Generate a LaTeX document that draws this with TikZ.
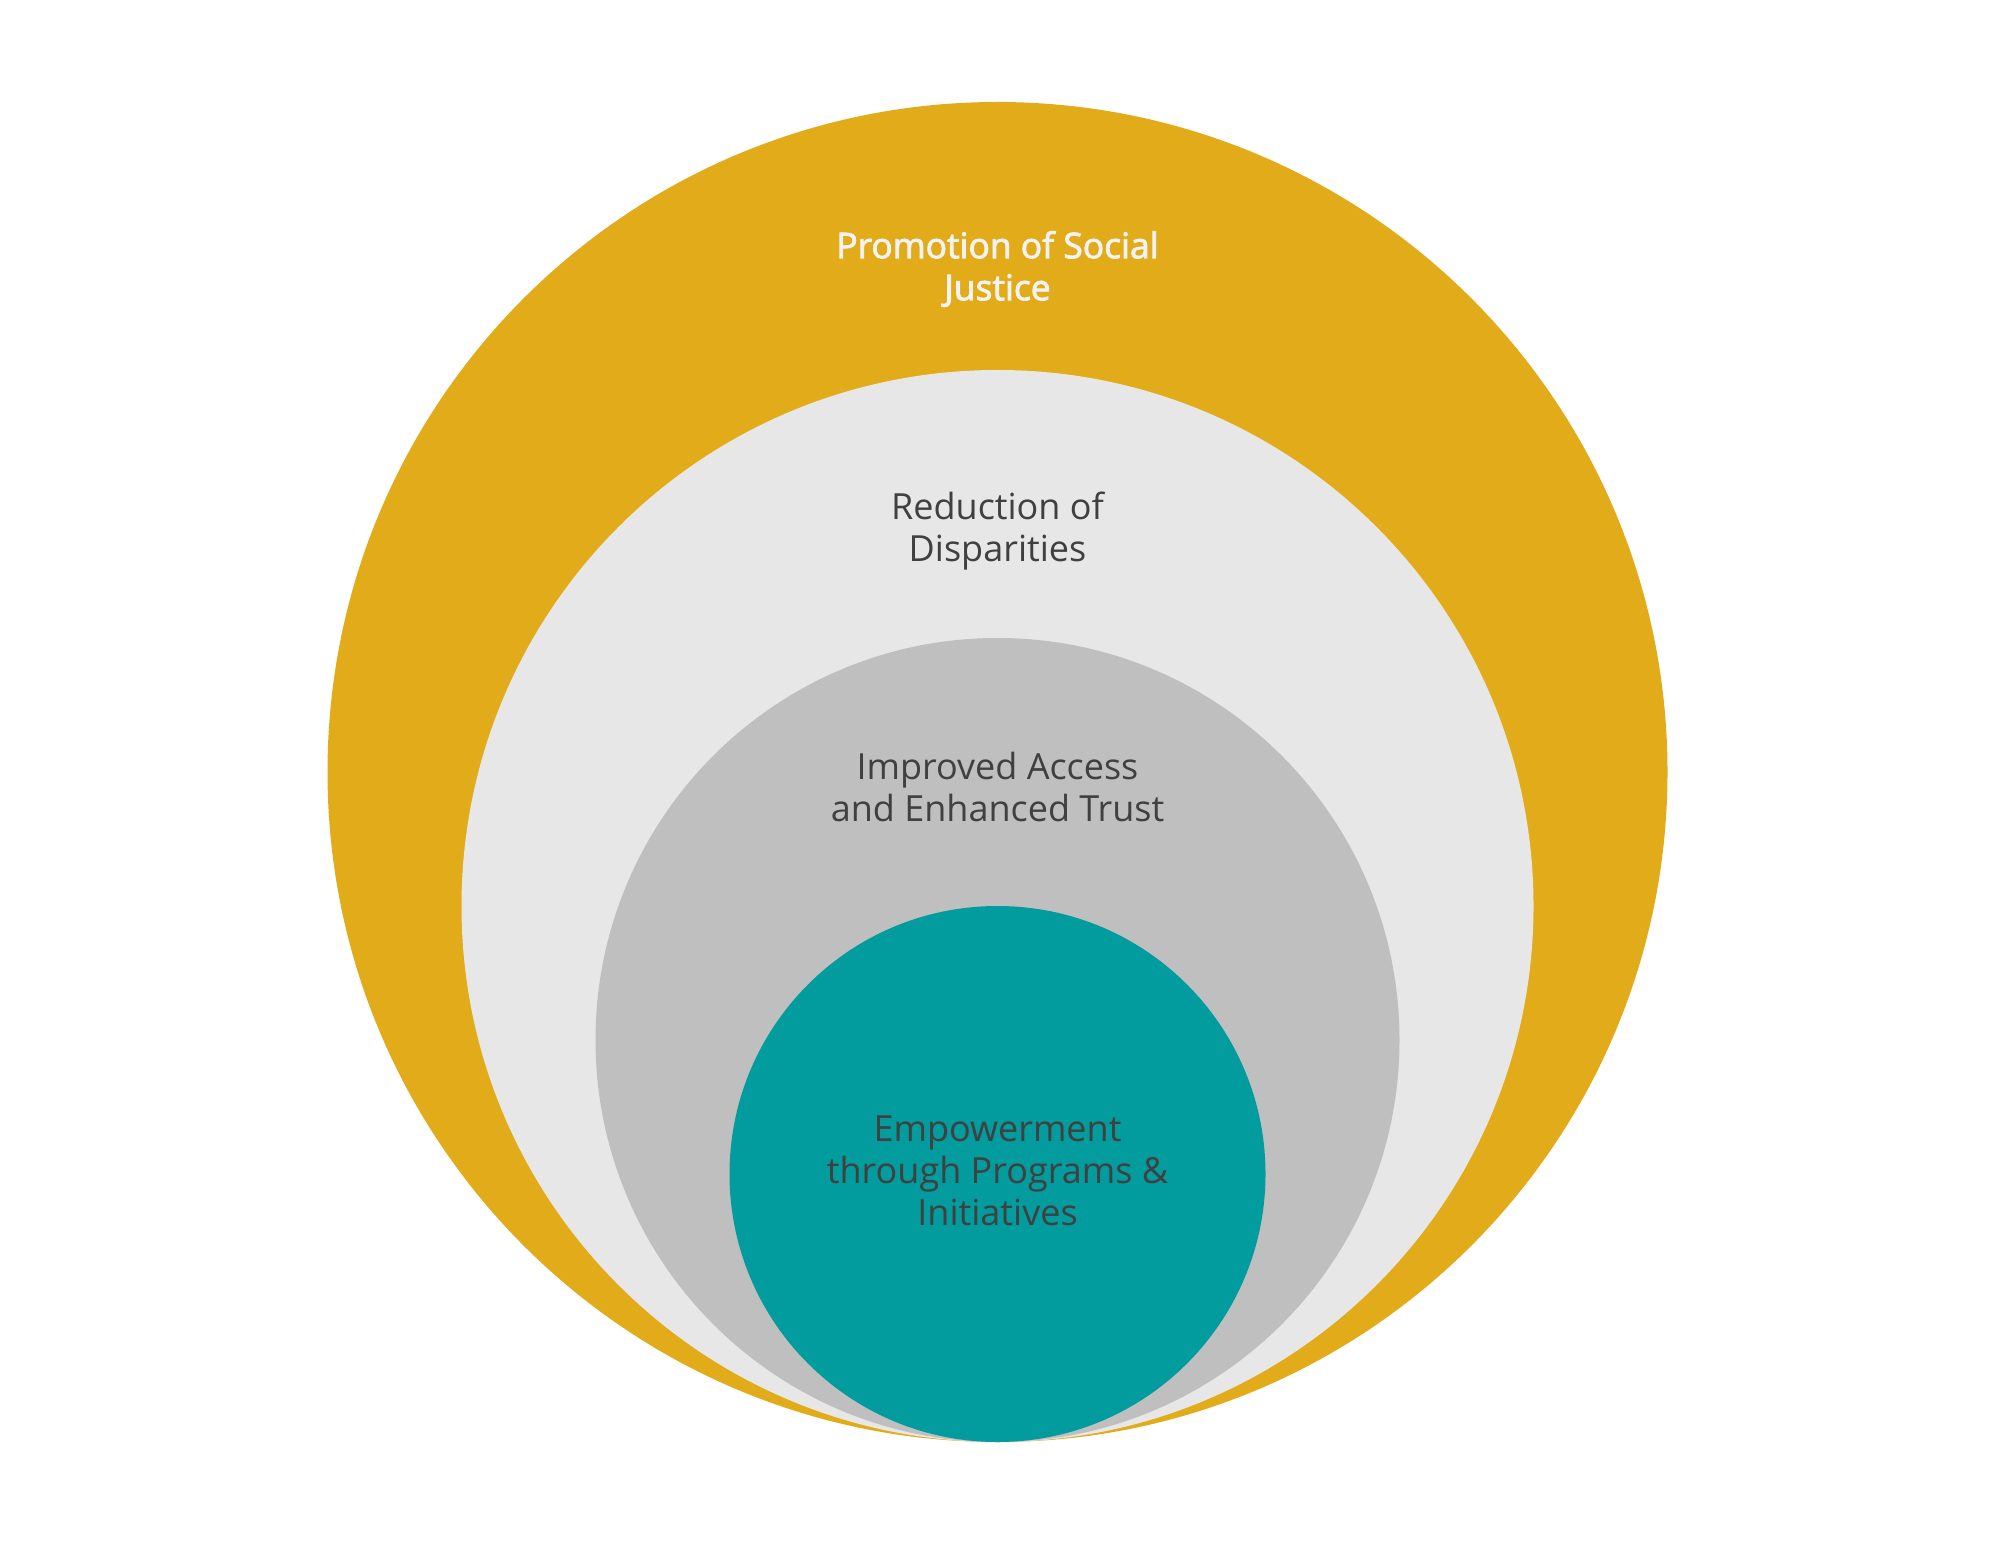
\documentclass[tikz,border=0pt]{standalone}
\usepackage{fontspec}
\setmainfont{Open Sans}[Ligatures=NoCommon]
\newfontfamily\titlefont{Open Sans}[Ligatures=NoCommon,FakeBold=2.5]
\definecolor{goldc}{HTML}{E1AB19}
\definecolor{lightg}{HTML}{E7E7E7}
\definecolor{midg}{HTML}{BFBFBF}
\definecolor{tealc}{HTML}{029C9E}
\definecolor{txtdark}{HTML}{404040}
\definecolor{txtlight}{HTML}{F2F2F2}
\begin{document}
\begin{tikzpicture}[x=0.5pt,y=-0.5pt,
  ring/.style={circle,inner sep=0pt,minimum size=#1},
  lbl/.style={align=center,font=\fontsize{18}{21}\selectfont,text=txtdark}]
\useasboundingbox[fill=white] (0,0) rectangle (2000,1545);
\node[ring=670pt,fill=goldc] (c1) at (997.5,772) {};
\node[ring=536pt,fill=lightg] (c2) at (997.5,906) {};
\node[ring=402pt,fill=midg] (c3) at (997.5,1040) {};
\node[ring=268pt,fill=tealc] (c4) at (997.5,1174) {};
\node[lbl,text=txtlight,font=\fontsize{17.7}{21}\titlefont] (t1) at (997.5,269) {Promotion of Social\\Justice};
\node[lbl] (t2) at (997.5,531) {Reduction of\\Disparities};
\node[lbl] (t3) at (997.5,787) {Improved Access\\and Enhanced Trust};
\node[lbl] (t4) at (997.5,1171) {Empowerment\\through Programs \&\\Initiatives};
\end{tikzpicture}
\end{document}
